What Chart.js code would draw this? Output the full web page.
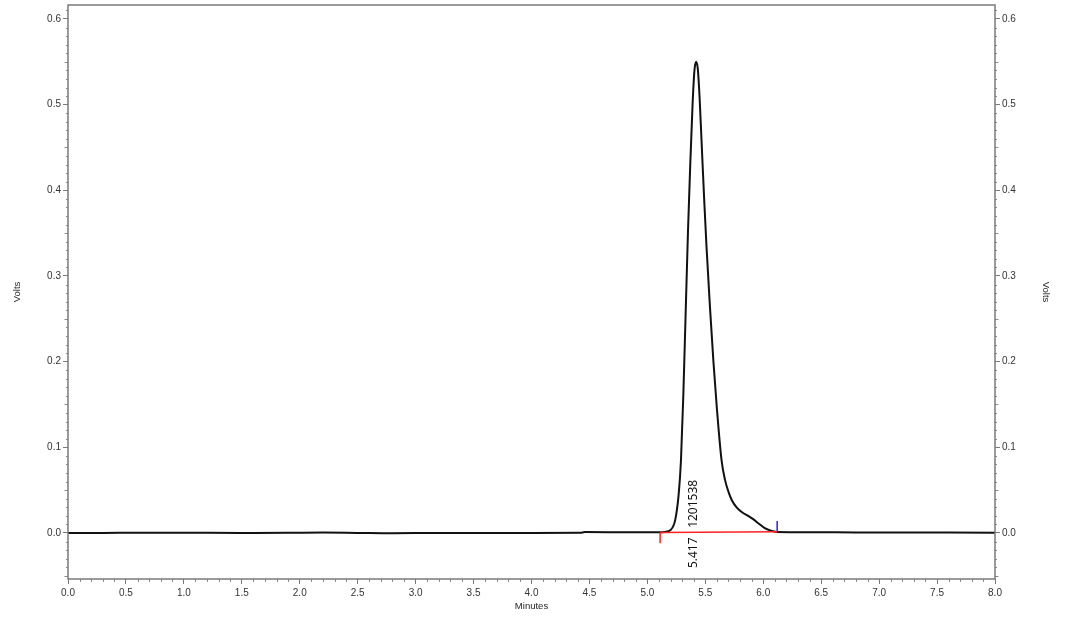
<!DOCTYPE html>
<html>
<head>
<meta charset="utf-8">
<script src="https://cdn.jsdelivr.net/npm/chart.js@4/dist/chart.umd.min.js"></script>
<style>html,body{margin:0;padding:0;background:#fff;}canvas{display:block;}</style>
</head>
<body>
<canvas id="c" width="1068" height="622"></canvas>
<script>
// ---- data ----
const times = [0, 0.3, 0.7, 1.1, 1.5, 1.9, 2.2, 2.5, 2.8, 3.2, 3.6, 4.0, 4.42, 4.46, 4.8, 5.1, 5.15, 5.2, 5.24, 5.27, 5.29, 5.31, 5.33, 5.35, 5.37, 5.39, 5.405, 5.42, 5.435, 5.45, 5.47, 5.49, 5.51, 5.54, 5.57, 5.60, 5.64, 5.67, 5.70, 5.73, 5.77, 5.82, 5.87, 5.91, 5.96, 6.01, 6.06, 6.12, 6.4, 6.8, 7.2, 7.6, 8.0];
const volts = [0, 0.0001, 0.0003, 0.0002, 0.0001, 0.0002, 0.0005, 0.0001, -0.0003, 0.0, 0.0, 0.0001, 0.0002, 0.0011, 0.0009, 0.0008, 0.0012, 0.0035, 0.015, 0.045, 0.085, 0.16, 0.255, 0.35, 0.43, 0.50, 0.538, 0.55, 0.542, 0.51, 0.45, 0.39, 0.335, 0.264, 0.20, 0.145, 0.085, 0.062, 0.048, 0.038, 0.030, 0.024, 0.020, 0.0165, 0.011, 0.006, 0.003, 0.0012, 0.0009, 0.0007, 0.0006, 0.0005, 0.0004];
const baseTimes = [5.11, 6.12];
const baseVolts = [0.0005, 0.0015];
const startTickVolts = [0.0005, -0.012];
const endTickVolts = [0.0015, 0.014];
const xTicks = [0,0.5,1,1.5,2,2.5,3,3.5,4,4.5,5,5.5,6,6.5,7,7.5,8];
const yTicks = [0,0.1,0.2,0.3,0.4,0.5,0.6];
const peakTime = 5.417;
const peakLabel = '5.417';
const peakArea = '1201538';

const pts = (xs, ys) => xs.map((x, i) => ({x: x, y: ys[i]}));

const deco = {
  id: 'deco',
  afterDraw(chart) {
    const {ctx, chartArea: a, scales} = chart;
    const x = scales.x, y = scales.y;
    ctx.save();
    // minor ticks
    ctx.strokeStyle = '#8c8c8c';
    ctx.lineWidth = 1;
    ctx.beginPath();
    for (let i = 0; i <= 80; i++) {
      if (i % 5 === 0) continue;
      const px = Math.round(x.getPixelForValue(i / 10)) + 0.5;
      ctx.moveTo(px, a.bottom); ctx.lineTo(px, a.bottom + 3);
    }
    for (let i = -5; i <= 61; i++) {
      if (i % 10 === 0) continue;
      const py = Math.round(y.getPixelForValue(i / 100)) + 0.5;
      const len = (i % 5 === 0) ? 3.5 : 2;
      ctx.moveTo(a.left, py); ctx.lineTo(a.left - len, py);
      ctx.moveTo(a.right, py); ctx.lineTo(a.right + len, py);
    }
    ctx.stroke();
    // frame
    ctx.strokeStyle = '#7a7a7a';
    ctx.lineWidth = 1.5;
    ctx.strokeRect(a.left, a.top, a.right - a.left, a.bottom - a.top);
    // peak labels
    const px = x.getPixelForValue(peakTime) - 2;
    ctx.fillStyle = '#111';
    ctx.font = '12px "Noto Sans", "DejaVu Sans", sans-serif';
    ctx.textBaseline = 'middle';
    ctx.textAlign = 'left';
    ctx.translate(px, y.getPixelForValue(0.006));
    ctx.rotate(-Math.PI / 2);
    ctx.fillText(peakArea, 0, 0);
    ctx.restore();
    ctx.save();
    ctx.fillStyle = '#111';
    ctx.font = '12px "Noto Sans", "DejaVu Sans", sans-serif';
    ctx.textBaseline = 'middle';
    ctx.textAlign = 'left';
    ctx.translate(px, y.getPixelForValue(-0.041));
    ctx.rotate(-Math.PI / 2);
    ctx.fillText(peakLabel, 0, 0);
    ctx.restore();
  }
};

const tickFont = {family: '"Liberation Sans", Arial, sans-serif', size: 10};
const titleFont = {family: '"Liberation Sans", Arial, sans-serif', size: 9.5};
const noPad = s => { s.paddingTop = 0; s.paddingBottom = 0; s.paddingLeft = 0; s.paddingRight = 0; };

new Chart(document.getElementById('c'), {
  type: 'line',
  data: {
    datasets: [
      {data: pts(baseTimes, baseVolts), borderColor: '#ff2020', borderWidth: 1.5, pointRadius: 0, tension: 0},
      {data: pts([baseTimes[0], baseTimes[0]], startTickVolts), borderColor: '#ff2020', borderWidth: 1.5, pointRadius: 0, tension: 0},
      {data: pts([baseTimes[1], baseTimes[1]], endTickVolts), borderColor: '#2020ff', borderWidth: 1.5, pointRadius: 0, tension: 0},
      {data: pts(times, volts), borderColor: '#111111', borderWidth: 2, pointRadius: 0, cubicInterpolationMode: 'monotone'}
    ]
  },
  options: {
    responsive: false,
    animation: false,
    layout: {padding: {top: 5, left: 0, right: 0, bottom: 0}},
    plugins: {legend: {display: false}, tooltip: {enabled: false}},
    scales: {
      x: {
        type: 'linear', min: 0, max: 8,
        afterBuildTicks: s => { s.ticks = xTicks.map(v => ({value: v})); },
        afterFit: s => { s.height = 43; noPad(s); },
        grid: {drawOnChartArea: false, tickLength: 5, tickColor: '#7a7a7a', tickWidth: 1},
        border: {display: false},
        ticks: {font: tickFont, color: '#333', padding: 3, maxRotation: 0, autoSkip: false, callback: v => Number(v).toFixed(1)},
        title: {display: true, text: 'Minutes', font: titleFont, color: '#222', padding: {top: 0, bottom: 10}}
      },
      y: {
        type: 'linear', position: 'left', min: -0.0537, max: 0.6163,
        afterBuildTicks: s => { s.ticks = yTicks.map(v => ({value: v})); },
        afterFit: s => { s.width = 68; noPad(s); },
        grid: {drawOnChartArea: false, tickLength: 5, tickColor: '#7a7a7a', tickWidth: 1},
        border: {display: false},
        ticks: {font: tickFont, color: '#333', padding: 2, autoSkip: false, callback: v => Number(v).toFixed(1)},
        title: {display: true, text: 'Volts', font: titleFont, color: '#222', padding: {top: 12, bottom: 0}}
      },
      y2: {
        type: 'linear', position: 'right', min: -0.0537, max: 0.6163,
        afterBuildTicks: s => { s.ticks = yTicks.map(v => ({value: v})); },
        afterFit: s => { s.width = 73; noPad(s); },
        grid: {drawOnChartArea: false, tickLength: 5, tickColor: '#7a7a7a', tickWidth: 1},
        border: {display: false},
        ticks: {font: tickFont, color: '#333', padding: 2, autoSkip: false, callback: v => Number(v).toFixed(1)},
        title: {display: true, text: 'Volts', font: titleFont, color: '#222', padding: {top: 17, bottom: 0}}
      }
    }
  },
  plugins: [deco]
});
</script>
</body>
</html>
